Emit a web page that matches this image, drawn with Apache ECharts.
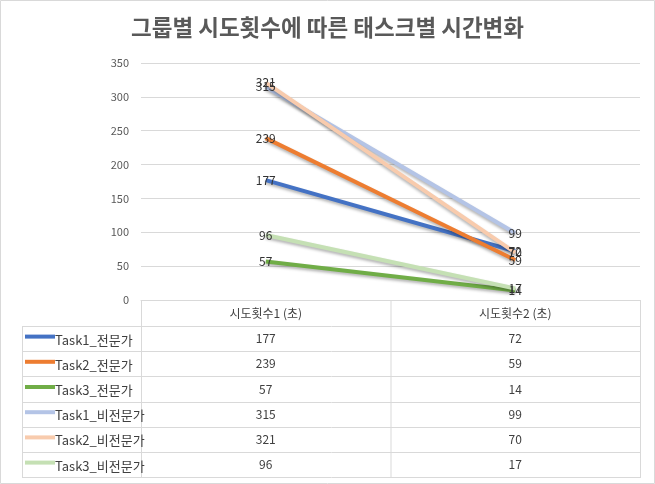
<!DOCTYPE html>
<html>
<head>
<meta charset="utf-8">
<script src="https://cdn.jsdelivr.net/npm/echarts@6/dist/echarts.min.js"></script>
<style>
  html, body { margin: 0; padding: 0; background: #fff; }
  #chart { width: 655px; height: 484px; }
</style>
</head>
<body>
<div id="chart"></div>
<script>
// 데이터
const categories = ['시도횟수1 (초)', '시도횟수2 (초)']
const seriesNames = ['Task1_전문가', 'Task2_전문가', 'Task3_전문가', 'Task1_비전문가', 'Task2_비전문가', 'Task3_비전문가']
const try1Values = [177, 239, 57, 315, 321, 96]
const try2Values = [72, 59, 14, 99, 70, 17]
const colors = ['#4472C4', '#ED7D31', '#70AD47', '#B4C4E6', '#F8CBAD', '#C5E0B4']
const yTicks = { min: 0, max: 350, interval: 50 }

const chart = echarts.init(document.getElementById('chart'))

// 표 레이아웃
const plotLeft = 141
const plotRight = 640
const axisY = 300
const headerBottom = 326
const rowH = 25.2
const tableLeft = 22
const midX = (plotLeft + plotRight) / 2
const lineColor = '#D9D9D9'
const textColor = '#404040'

const graphic = []
// 바깥 테두리
graphic.push({ type: 'rect', shape: { x: 0.5, y: 0.5, width: 654, height: 483 }, style: { fill: 'none', stroke: '#D9D9D9', lineWidth: 1 } })

const tableBottom = headerBottom + rowH * seriesNames.length
// 세로선
graphic.push({ type: 'line', shape: { x1: plotLeft + 0.5, y1: axisY, x2: plotLeft + 0.5, y2: tableBottom }, style: { stroke: lineColor } })
graphic.push({ type: 'line', shape: { x1: midX + 0.5, y1: axisY, x2: midX + 0.5, y2: tableBottom }, style: { stroke: lineColor } })
graphic.push({ type: 'line', shape: { x1: plotRight + 0.5, y1: axisY, x2: plotRight + 0.5, y2: tableBottom }, style: { stroke: lineColor } })
graphic.push({ type: 'line', shape: { x1: tableLeft + 0.5, y1: headerBottom, x2: tableLeft + 0.5, y2: tableBottom }, style: { stroke: lineColor } })

// 가로선 + 행 내용
for (let i = 0; i <= seriesNames.length; i++) {
  const y = Math.round(headerBottom + rowH * i) + 0.5
  graphic.push({ type: 'line', shape: { x1: tableLeft, y1: y, x2: plotRight + 1, y2: y }, style: { stroke: lineColor } })
}
seriesNames.forEach((name, i) => {
  const cy = headerBottom + rowH * i + rowH / 2
  graphic.push({ type: 'line', shape: { x1: 25, y1: cy - 2, x2: 55, y2: cy - 2 }, style: { stroke: colors[i], lineWidth: 4 } })
  graphic.push({ type: 'text', x: 55, y: cy + 1, style: { text: name, fill: textColor, font: '13px "Noto Sans CJK KR"', verticalAlign: 'middle', align: 'left' } })
  graphic.push({ type: 'text', x: (plotLeft + midX) / 2, y: cy, style: { text: String(try1Values[i]), fill: textColor, font: '12px "Noto Sans CJK KR"', verticalAlign: 'middle', align: 'center' } })
  graphic.push({ type: 'text', x: (midX + plotRight) / 2, y: cy, style: { text: String(try2Values[i]), fill: textColor, font: '12px "Noto Sans CJK KR"', verticalAlign: 'middle', align: 'center' } })
})

const option = {
  animation: false,
  title: {
    text: '그룹별 시도횟수에 따른 태스크별 시간변화',
    left: 'center',
    top: 11,
    textStyle: { fontSize: 22.5, fontWeight: 'bold', color: '#595959', fontFamily: 'Noto Sans CJK KR' }
  },
  grid: { left: plotLeft, right: 655 - plotRight, top: 63, bottom: 484 - axisY },
  xAxis: {
    type: 'category',
    data: categories,
    boundaryGap: true,
    axisLine: { lineStyle: { color: lineColor } },
    axisTick: { show: false },
    axisLabel: { margin: 7, fontSize: 12, color: textColor, fontFamily: 'Noto Sans CJK KR' }
  },
  yAxis: {
    type: 'value',
    min: yTicks.min,
    max: yTicks.max,
    interval: yTicks.interval,
    axisLine: { show: false },
    axisTick: { show: false },
    axisLabel: { margin: 12, fontSize: 11, color: '#595959', fontFamily: 'Noto Sans CJK KR' },
    splitLine: { lineStyle: { color: lineColor } }
  },
  series: seriesNames.map((name, i) => ({
    name: name,
    type: 'line',
    data: [try1Values[i], try2Values[i]],
    symbol: 'circle',
    symbolSize: 0.1,
    lineStyle: {
      width: 4,
      color: colors[i],
      shadowColor: 'rgba(0,0,0,0.3)',
      shadowBlur: 3,
      shadowOffsetY: 2
    },
    itemStyle: { color: colors[i] },
    label: {
      show: true,
      position: 'inside',
      color: '#333',
      fontSize: 12,
      fontFamily: 'Noto Sans CJK KR'
    },
    labelLayout: { hideOverlap: false }
  })),
  graphic: graphic
}

chart.setOption(option)
</script>
</body>
</html>
